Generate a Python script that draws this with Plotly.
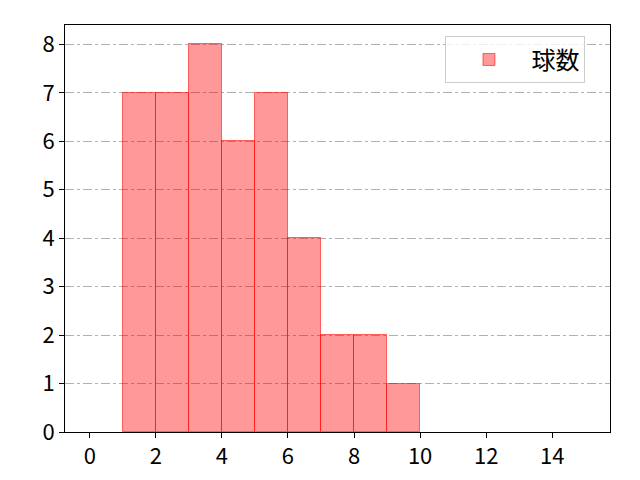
import plotly.graph_objects as go

# histogram bins (left edges) and counts
bin_left = [1, 2, 3, 4, 5, 6, 7, 8, 9]
counts = [7, 7, 8, 6, 7, 4, 2, 2, 1]
x_ticks = [0, 2, 4, 6, 8, 10, 12, 14]
y_ticks = [0, 1, 2, 3, 4, 5, 6, 7, 8]

_FONT = "Noto Sans CJK JP, DejaVu Sans, sans-serif"

fig = go.Figure()
fig.add_trace(
    go.Bar(
        x=bin_left,
        y=counts,
        width=1,
        offset=0,
        name="球数",
        marker=dict(color="rgba(255,0,0,0.4)", line=dict(color="rgba(255,0,0,0.55)", width=1)),
    )
)

axis_common = dict(
    showline=True,
    linecolor="black",
    linewidth=1,
    mirror=True,
    ticks="outside",
    ticklen=5,
    tickcolor="black",
    zeroline=False,
)
fig.update_xaxes(range=[-0.75, 15.75], tickvals=x_ticks, showgrid=False, **axis_common)
fig.update_yaxes(
    range=[0, 8.4],
    tickvals=y_ticks,
    showgrid=True,
    gridcolor="#b0b0b0",
    griddash="dashdot",
    gridwidth=1,
    **axis_common,
)
# page body has an 8px margin, so the figure is offset by (8, 8)
fig.update_layout(
    width=640,
    height=480,
    margin=dict(l=57, r=38, t=17, b=56),
    plot_bgcolor="white",
    paper_bgcolor="white",
    font=dict(family=_FONT, size=22, color="black"),
    bargap=0,
    showlegend=True,
    legend=dict(
        x=0.955,
        y=0.972,
        xanchor="right",
        yanchor="top",
        bgcolor="rgba(255,255,255,0.8)",
        bordercolor="#cccccc",
        borderwidth=1,
        itemwidth=75,
        font=dict(size=24),
    ),
)

fig.write_html("out.html")
